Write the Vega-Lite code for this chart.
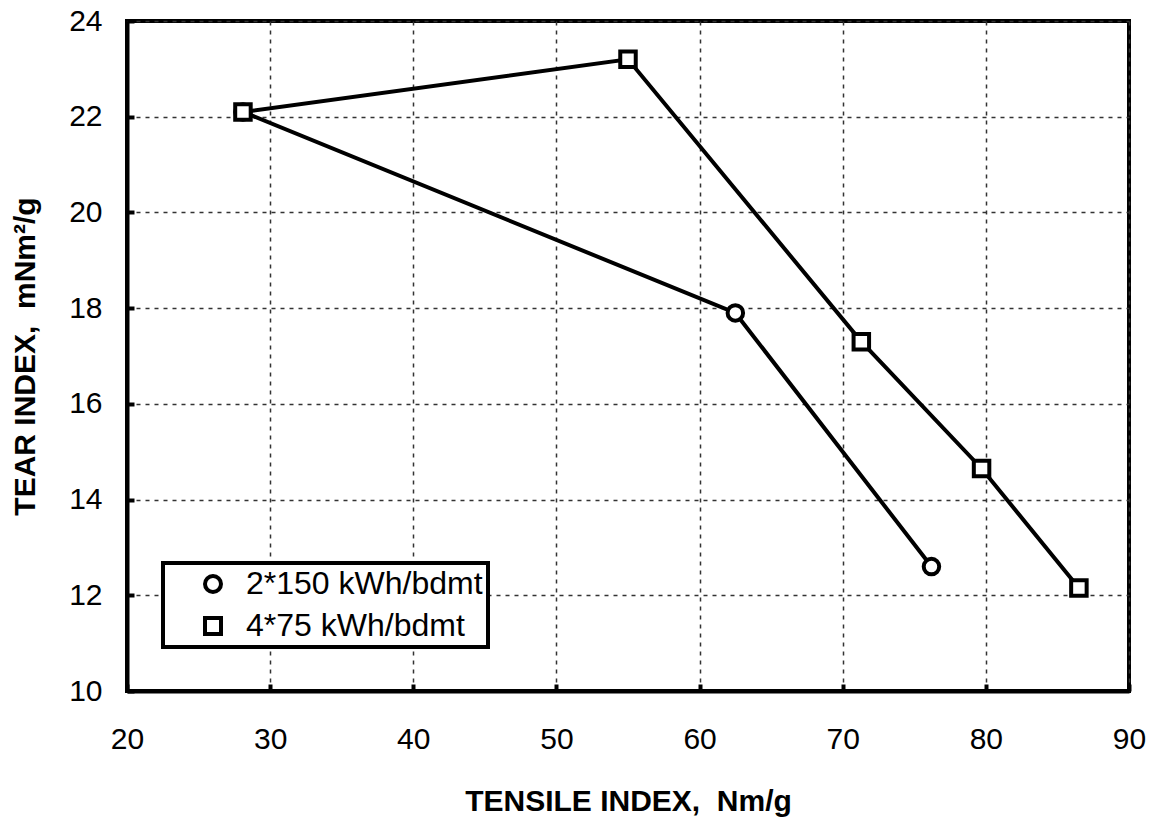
{
  "$schema": "https://vega.github.io/schema/vega-lite/v6.json",
  "width": 1002,
  "height": 670,
  "autosize": "none",
  "padding": {"left": 127, "top": 21, "right": 30, "bottom": 127},
  "background": "white",
  "config": {
    "font": "Liberation Sans",
    "view": {"stroke": "black", "strokeWidth": 4},
    "axis": {
      "domainColor": "black",
      "domainWidth": 4,
      "tickColor": "black",
      "tickWidth": 4,
      "tickSize": -7,
      "gridColor": "#333",
      "gridDash": [4, 5],
      "gridWidth": 1.5,
      "labelFont": "Liberation Sans",
      "labelFontSize": 30,
      "labelColor": "black",
      "labelFlush": false,
      "titleFont": "Liberation Sans",
      "titleFontSize": 30,
      "titleFontWeight": "bold",
      "titleColor": "black"
    },
    "legend": {"strokeWidth": 4}
  },
  "data": {
    "values": [
      {"s": "2*150 kWh/bdmt", "x": 28.1, "y": 22.1, "o": 1},
      {"s": "2*150 kWh/bdmt", "x": 62.5, "y": 17.9, "o": 2},
      {"s": "2*150 kWh/bdmt", "x": 76.2, "y": 12.6, "o": 3},
      {"s": "4*75 kWh/bdmt", "x": 28.1, "y": 22.1, "o": 1},
      {"s": "4*75 kWh/bdmt", "x": 55.0, "y": 23.2, "o": 2},
      {"s": "4*75 kWh/bdmt", "x": 71.3, "y": 17.3, "o": 3},
      {"s": "4*75 kWh/bdmt", "x": 79.7, "y": 14.65, "o": 4},
      {"s": "4*75 kWh/bdmt", "x": 86.5, "y": 12.15, "o": 5}
    ]
  },
  "encoding": {
    "x": {
      "field": "x", "type": "quantitative",
      "scale": {"domain": [20, 90], "nice": false, "zero": false},
      "axis": {"values": [20, 30, 40, 50, 60, 70, 80, 90], "title": "TENSILE INDEX,\u00a0\u00a0Nm/g", "labelPadding": 40, "titlePadding": 32, "grid": true}
    },
    "y": {
      "field": "y", "type": "quantitative",
      "scale": {"domain": [10, 24], "nice": false, "zero": false},
      "axis": {"values": [10, 12, 14, 16, 18, 20, 22, 24], "title": "TEAR INDEX,\u00a0\u00a0mNm²/g", "labelPadding": 32, "titlePadding": 28, "grid": true}
    }
  },
  "layer": [
    {
      "mark": {"type": "line", "color": "black", "strokeWidth": 4},
      "encoding": {
        "detail": {"field": "s"},
        "order": {"field": "o"}
      }
    },
    {
      "mark": {"type": "point", "filled": true, "fill": "white", "stroke": "black", "strokeWidth": 4, "opacity": 1},
      "encoding": {
        "shape": {
          "field": "s", "type": "nominal",
          "scale": {"domain": ["2*150 kWh/bdmt", "4*75 kWh/bdmt"], "range": ["circle", "square"]},
          "legend": {
            "title": null,
            "orient": "none",
            "legendX": 36,
            "legendY": 542,
            "padding": 5,
            "symbolOffset": 29,
            "symbolSize": 256,
            "symbolStrokeWidth": 4,
            "labelFontSize": 32,
            "labelFont": "Liberation Sans",
            "labelColor": "black",
            "labelLimit": 500,
            "labelOffset": 17,
            "rowPadding": 10,
            "strokeColor": "black",
            "fillColor": "white",
            "encode": {
              "legend": {"strokeWidth": {"value": 4}},
              "symbols": {
                "size": {"value": 256},
                "fill": {"value": "white"},
                "stroke": {"value": "black"},
                "strokeWidth": {"value": 4},
                "opacity": {"value": 1}
              }
            }
          }
        },
        "size": {"value": 240}
      }
    }
  ]
}
